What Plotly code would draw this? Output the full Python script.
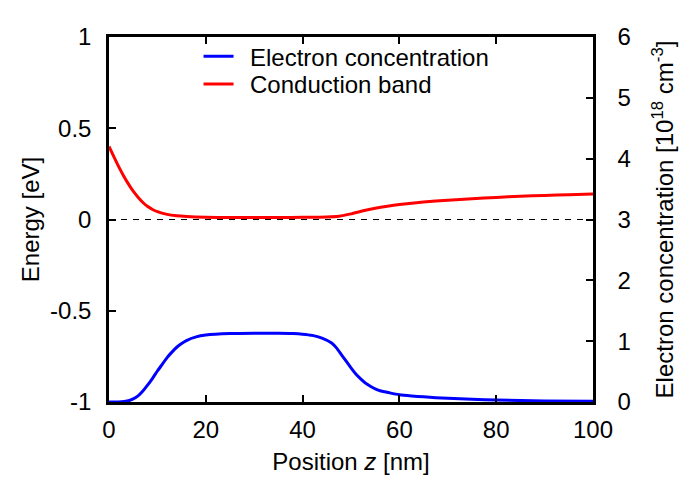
import plotly.graph_objects as go

# Conduction band energy [eV] vs position z [nm]
z_cb = [0, 1, 2, 3, 4, 5, 6, 7, 8, 9, 10, 12, 14, 16, 20, 25, 30, 35, 40, 45,
        47.5, 50, 52.5, 55, 57.5, 60, 65, 70, 75, 80, 85, 90, 95, 100]
e_cb = [0.40, 0.345, 0.29, 0.24, 0.195, 0.155, 0.122, 0.093, 0.071, 0.055, 0.043,
        0.028, 0.020, 0.016, 0.012, 0.011, 0.011, 0.011, 0.012, 0.014,
        0.018, 0.031, 0.048, 0.062, 0.073, 0.082, 0.096, 0.106, 0.114, 0.121,
        0.127, 0.132, 0.136, 0.140]

# Electron concentration [1e18 cm^-3] vs position z [nm]
z_n = [0, 2, 4, 5, 6, 7, 8, 9, 10, 11, 12, 13, 14, 15, 16, 18, 20, 25, 30, 35, 38,
       40, 42, 44, 46, 47, 48, 49, 50, 51, 52, 53, 54, 55, 56, 58, 60, 62.5, 65,
       70, 75, 80, 90, 100]
n_e = [0.0, 0.0, 0.02, 0.05, 0.10, 0.18, 0.28, 0.39, 0.51, 0.62, 0.73, 0.82, 0.90,
       0.96, 1.01, 1.07, 1.10, 1.125, 1.13, 1.13, 1.125,
       1.115, 1.095, 1.05, 0.97, 0.89, 0.78, 0.67, 0.56, 0.46, 0.38, 0.31, 0.26,
       0.215, 0.185, 0.15, 0.12, 0.10, 0.085, 0.06, 0.045, 0.032, 0.018, 0.012]

# Reference line (zero energy)
z_ref = [0, 100]
e_ref = [0, 0]

x_ticks = [0, 20, 40, 60, 80, 100]
y_ticks = [-1, -0.5, 0, 0.5, 1]
y_ticktext = ["-1", "-0.5", "0", "0.5", "1"]
y2_ticks = [0, 1, 2, 3, 4, 5, 6]

FONT = "Liberation Sans"
FS = 24

fig = go.Figure()
fig.add_trace(go.Scatter(x=z_ref, y=e_ref, mode="lines", showlegend=False,
                         line=dict(color="black", width=1, dash="6px,6px"),
                         hoverinfo="skip"))
fig.add_trace(go.Scatter(x=z_cb, y=e_cb, mode="lines",
                         name="\u00a0\u2009Conduction band", legend="legend2",
                         line=dict(color="#ff0000", width=3, shape="spline", smoothing=0.6)))
fig.add_trace(go.Scatter(x=z_n, y=n_e, mode="lines",
                         name="\u00a0\u2009Electron concentration", legend="legend",
                         yaxis="y2",
                         line=dict(color="#0000ff", width=3, shape="spline", smoothing=0.6)))

axis_common = dict(showgrid=False, zeroline=False, showline=True, linecolor="black",
                   linewidth=2.5, ticks="inside", ticklen=7, tickwidth=1.5,
                   tickcolor="black", automargin=False,
                   tickfont=dict(size=FS, color="black", family=FONT))

legend_common = dict(xanchor="left", yanchor="middle", bgcolor="rgba(0,0,0,0)",
                     borderwidth=0, font=dict(size=FS, family=FONT, color="black"),
                     itemwidth=30)

y2_title = "Electron concentration [10<sup>18</sup> cm<sup>-3</sup>]"

fig.update_layout(
    width=681, height=477,
    margin=dict(l=109, r=88, t=37, b=75),
    paper_bgcolor="white", plot_bgcolor="white",
    font=dict(family=FONT, size=FS, color="black"),
    xaxis=dict(range=[0, 100], tickvals=x_ticks, mirror="ticks",
               title=dict(text="Position <i>z</i> [nm]", standoff=12,
                          font=dict(size=FS, family=FONT)),
               ticklabelstandoff=4,
               **axis_common),
    yaxis=dict(range=[-1, 1], tickvals=y_ticks, ticktext=y_ticktext,
               title=dict(text="Energy [eV]", standoff=4,
                          font=dict(size=FS, family=FONT)),
               ticklabelstandoff=10,
               **axis_common),
    yaxis2=dict(range=[0, 6], tickvals=y2_ticks, overlaying="y", side="right",
                title=dict(text=y2_title, standoff=27,
                           font=dict(size=FS, family=FONT)),
                ticklabelstandoff=17,
                **axis_common),
    legend=dict(x=0.185, y=0.946, **legend_common),
    legend2=dict(x=0.185, y=0.870, **legend_common),
    showlegend=True,
)

fig.write_html("out.html")
